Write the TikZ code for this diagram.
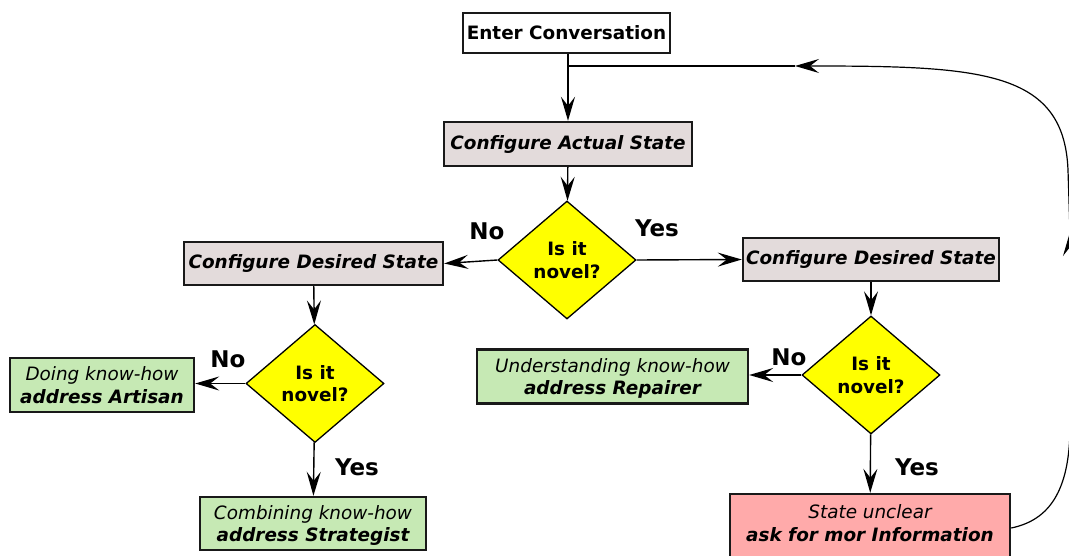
\documentclass[tikz,border=0pt]{standalone}
\usepackage{fontspec}
\setmainfont{DejaVu Sans}
\usetikzlibrary{arrows.meta,shapes.geometric}
\definecolor{stategrey}{HTML}{E3DBDB}
\definecolor{knowgreen}{HTML}{C6E9B4}
\definecolor{askpink}{HTML}{FFAAAA}
\definecolor{novelyel}{HTML}{FFFF00}
\tikzset{
  base/.style={align=center, inner sep=0pt, font=\fontsize{18.4}{22.5}\selectfont, text=black},
  box/.style={base, rectangle, draw=black!90, line width=2.4pt, fill=#1},
  decision/.style={base, diamond, draw=black, line width=1.3pt, fill=novelyel, minimum width=138pt, minimum height=118pt, font=\fontsize{18.4}{22.5}\selectfont\bfseries},
  arr/.style={-{Stealth[length=24pt,width=14pt,inset=9pt]}, line width=1.4pt, draw=black},
  lab/.style={font=\fontsize{23}{23}\selectfont\bfseries, text=black},
}
\begin{document}
\begin{tikzpicture}[x=1pt, y=-1pt]
    \useasboundingbox[fill=white] (0,0) rectangle (1069,556);
    % main column
    \node[box=white, minimum width=207pt, minimum height=40pt, font=\fontsize{18.4}{22.5}\selectfont\bfseries] (enter) at (566.5,33) {Enter Conversation};
    \node[box=stategrey, minimum width=248pt, minimum height=44pt, font=\fontsize{18.4}{22.5}\selectfont\bfseries\itshape] (actual) at (568,144) {Configure Actual State};
    \node[decision] (novelA) at (567,260) {Is it\\novel?};
    \node[box=stategrey, minimum width=259pt, minimum height=43pt, font=\fontsize{18.4}{22.5}\selectfont\bfseries\itshape] (desiredL) at (313.5,263.5) {Configure Desired State};
    \node[box=stategrey, minimum width=256pt, minimum height=43pt, font=\fontsize{18.4}{22.5}\selectfont\bfseries\itshape] (desiredR) at (871,259.5) {Configure Desired State};
    % left branch
    \node[decision] (novelL) at (315,383.5) {Is it\\novel?};
    \node[box=knowgreen, text depth=0pt, minimum width=184pt, minimum height=54pt] (artisan) at (102,385) {\itshape Doing know-how\\\bfseries\itshape address Artisan};
    \node[box=knowgreen, text depth=0pt, minimum width=226pt, minimum height=53pt] (strategist) at (313,523.5) {\itshape Combining know-how\\\bfseries\itshape address Strategist};
    % right branch
    \node[decision] (novelR) at (871,375) {Is it\\novel?};
    \node[box=knowgreen, text depth=0pt, minimum width=271pt, minimum height=54pt] (repairer) at (612.5,376.5) {\itshape Understanding know-how\\\bfseries\itshape address Repairer};
    \node[box=askpink, text depth=10pt, minimum width=280pt, minimum height=68pt] (ask) at (870,528) {\itshape State unclear\\\bfseries\itshape ask for mor Information};

    \coordinate (junction) at (568,66);
    \coordinate (loopin) at (795,66);
    \coordinate (rise) at (1070,232);

    \draw[arr] (enter.south -| junction) -- (actual.north);
    \draw[arr] (actual) -- (novelA);
    \draw[arr] (novelA.west) -- (desiredL.east);
    \draw[arr] (novelA.east) -- (desiredR.west);
    \draw[arr] (desiredL) -- (novelL);
    \draw[arr] (novelL.west) -- (artisan.east |- novelL.west);
    \draw[arr] (novelL) -- (strategist);
    \draw[arr] (desiredR.south -| novelR.north) -- (novelR.north);
    \draw[arr] (novelR.west) -- (repairer.east |- novelR.west);
    \draw[arr] (novelR) -- (ask);

    % loop back from the unclear state
    \draw[arr, line width=1.2pt] (ask.east) .. controls (1050,520) and (1069,490) .. (1070,430) -- (rise);
    \draw[arr, line width=1.2pt] (rise) -- (1068,170) .. controls (1064,70) and (980,66) .. (loopin);
    \draw[line width=1.2pt] (loopin) -- (junction);

    \node[lab] (noA) at (487,231) {No};
    \node[lab] (yesA) at (657,228) {Yes};
    \node[lab] (noL) at (228,359) {No};
    \node[lab] (yesL) at (357,467) {Yes};
    \node[lab] (noR) at (789,357) {No};
    \node[lab] (yesR) at (917,467) {Yes};
\end{tikzpicture}
\end{document}
